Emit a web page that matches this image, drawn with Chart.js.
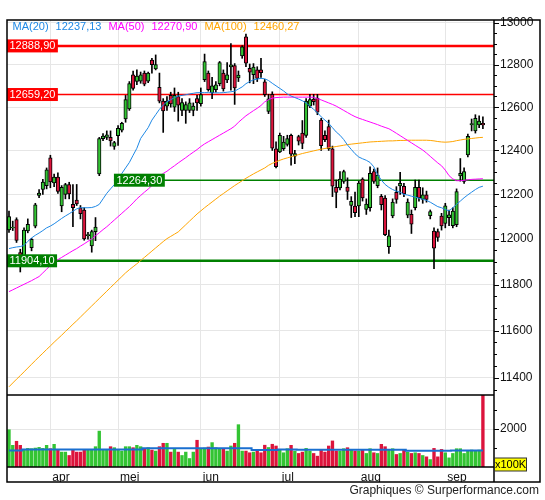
<!DOCTYPE html>
<html>
<head>
<meta charset="utf-8">
<title>Koersgrafiek</title>
<script src="https://cdn.jsdelivr.net/npm/chart.js@4.4.1/dist/chart.umd.min.js"></script>
<style>
    html, body { margin: 0; padding: 0; background: #fff; }
    #wrap { width: 545px; height: 500px; }
</style>
</head>
<body>
<div id="wrap"><canvas id="chart" width="545" height="500"></canvas></div>
<script>
// Dagkoersen, 17 maart t/m 15 september (127 handelsdagen)
const opens = [
    12041, 12050, 12087, 11940, 11912, 12036, 11962, 12058, 12196, 12223, 12240,
    12366, 12252, 12278, 12148, 12200, 12244, 12155, 12175, 12140, 12130, 12015, 11970, 12033, 12293, 12454, 12460, 12460, 12418,
    12468, 12493, 12545, 12592, 12752, 12721, 12722, 12760, 12722, 12822, 12780, 12693, 12628, 12605, 12655, 12600, 12650, 12585, 12585, 12585, 12585, 12640,
    12617, 12729, 12760, 12668, 12682, 12710, 12760, 12728, 12789, 12795, 12737, 12841, 12932, 12783, 12752, 12775, 12775, 12719, 12580, 12660, 12408,
    12393, 12408, 12428, 12469, 12374, 12464, 12480, 12469, 12605, 12638, 12643, 12540, 12469, 12510, 12408, 12232, 12229, 12259, 12233, 12150, 12148,
    12148, 12269, 12132, 12140, 12303, 12240, 12191, 12184, 11967, 12103, 12209, 12238, 12236, 12107, 12110, 12140, 12232, 12177, 12198, 12105, 12036, 12033, 12103,
    12070, 12095, 12060, 12064, 12284, 12259, 12380, 12518, 12490, 12518, 12525
];
const highs = [
    12125, 12080, 12095, 11955, 12050, 12090, 12003, 12160, 12222, 12268, 12320,
    12378, 12292, 12298, 12240, 12250, 12255, 12244, 12245, 12150, 12140, 12030, 12040, 12096, 12460, 12478, 12490, 12490, 12442,
    12515, 12530, 12655, 12720, 12770, 12775, 12765, 12770, 12765, 12830, 12846, 12760, 12640, 12650, 12670, 12690, 12670, 12640, 12625, 12640, 12620, 12655,
    12690, 12850, 12770, 12740, 12720, 12815, 12775, 12810, 12900, 12805, 12770, 12890, 12945, 12803, 12805, 12790, 12830, 12730, 12660, 12672, 12440,
    12480, 12465, 12470, 12475, 12400, 12470, 12538, 12640, 12660, 12660, 12660, 12548, 12490, 12540, 12420, 12265, 12303, 12310, 12275, 12190, 12210,
    12260, 12275, 12180, 12325, 12315, 12320, 12200, 12195, 12040, 12180, 12235, 12300, 12250, 12180, 12130, 12265, 12265, 12230, 12215, 12130, 12050, 12045, 12115,
    12160, 12130, 12140, 12225, 12363, 12320, 12475, 12545, 12565, 12560, 12555
];
const lows = [
    12030, 12038, 11985, 11855, 11900, 12028, 11948, 12050, 12185, 12200, 12225,
    12230, 12235, 12205, 12122, 12180, 12180, 12055, 12150, 12090, 11995, 12000, 11942, 11993, 12285, 12445, 12450, 12420, 12405,
    12423, 12485, 12530, 12585, 12680, 12705, 12712, 12700, 12715, 12760, 12775, 12620, 12483, 12585, 12600, 12580, 12535, 12560, 12525, 12575, 12560, 12585,
    12605, 12720, 12675, 12640, 12670, 12700, 12675, 12715, 12680, 12613, 12720, 12830, 12790, 12714, 12710, 12720, 12740, 12650, 12570, 12400, 12320,
    12390, 12400, 12420, 12333, 12340, 12425, 12408, 12460, 12598, 12610, 12565, 12400, 12440, 12400, 12190, 12140, 12220, 12250, 12177, 12096, 12100,
    12100, 12170, 12110, 12125, 12250, 12230, 12130, 12015, 11937, 12095, 12160, 12200, 12190, 12095, 12025, 12130, 12170, 12160, 12165, 12090, 11870, 11990, 12040,
    12050, 12060, 12050, 12055, 12260, 12250, 12370, 12490, 12480, 12505, 12500
];
const closes = [
    12100, 12054, 11994, 11904, 12040, 12066, 11999, 12153, 12206, 12256, 12312,
    12257, 12278, 12214, 12232, 12244, 12202, 12140, 12157, 12113, 12001, 12020, 12033, 12054, 12454, 12466, 12472, 12444, 12436,
    12502, 12525, 12636, 12710, 12688, 12746, 12752, 12708, 12760, 12800, 12800, 12628, 12583, 12628, 12615, 12655, 12610, 12622, 12612, 12620, 12605, 12620,
    12659, 12814, 12682, 12700, 12705, 12810, 12685, 12752, 12799, 12690, 12750, 12885, 12807, 12764, 12788, 12735, 12762, 12659, 12639, 12410, 12326,
    12469, 12438, 12454, 12383, 12386, 12443, 12432, 12628, 12636, 12626, 12577, 12422, 12449, 12408, 12237, 12209, 12269, 12303, 12214, 12169, 12118,
    12251, 12184, 12157, 12296, 12259, 12288, 12154, 12020, 12015, 12166, 12177, 12250, 12202, 12166, 12066, 12232, 12184, 12198, 12177, 12123, 11960, 12008, 12059,
    12149, 12108, 12125, 12213, 12296, 12303, 12465, 12524, 12548, 12535, 12518
];

// Volume in eenheden van 100K
const volumes = [
    1966, 1144, 1358, 1144, 894, 983, 965, 1000, 1036, 983, 1144,
    965, 1197, 894, 786, 786, 608, 894, 786, 786, 894, 894, 894, 1072, 1894, 894, 894, 1072, 1019,
    929, 840, 1072, 1072, 1019, 1144, 1072, 965, 1019, 894, 840, 1072, 1251, 1251, 786, 929, 786, 608, 786, 447, 786, 1412,
    965, 1000, 1054, 1287, 1019, 965, 965, 840, 1108, 1251, 2234, 840, 840, 751, 786, 894, 751, 1150, 1030, 1200, 1108,
    894, 751, 965, 1144, 840, 715, 786, 983, 840, 715, 572, 894, 786, 1108, 1376, 840, 840, 965, 1019, 929, 840,
    840, 894, 715, 965, 751, 715, 1197, 1072, 929, 965, 661, 715, 894, 786, 715, 751, 715, 608, 536, 393, 983, 536, 929,
    751, 482, 715, 965, 965, 715, 840, 894, 840, 894, 3800
];
const volumeMa = [
    876, 876, 876, 876,
    930, 930, 930, 930, 930, 930, 930, 930, 930, 930, 930, 930, 930, 930, 930, 930,
    930, 930, 930, 930, 930, 930, 930, 930, 930, 930, 930, 930, 930, 930, 930, 930,
    983, 983, 983, 983, 983, 983, 983, 983, 983, 983, 983, 983, 983, 983, 983,
    983, 983, 983, 983, 983, 983, 983, 983, 983, 983, 983, 983, 983, 983,
    894, 894, 894, 894, 894, 894, 894,
    929, 929, 929, 929, 929,
    911, 911, 911, 911, 911, 911, 911, 911, 911, 911, 911, 911, 911, 911, 911,
    911, 911, 911, 911, 911, 911, 911, 911, 911, 911, 911, 911, 911, 911,
    858, 858, 858, 858, 858, 858, 858, 858, 858, 858, 858, 858,
    876, 876, 876, 876, 876, 876, 876, 876, 876
];

// Voortschrijdende gemiddelden
const ma20 = [
    11958, 11962, 11965, 11967, 11972, 11990, 12005, 12017, 12027, 12038, 12050,
    12058, 12068, 12080, 12092, 12103, 12113, 12124, 12135, 12140, 12140, 12140, 12141, 12146, 12155, 12180, 12205, 12225, 12244,
    12270, 12295, 12320, 12345, 12378, 12410, 12455, 12480, 12505, 12540, 12565, 12590, 12610, 12625, 12635, 12645, 12652, 12655, 12658, 12662, 12665, 12668,
    12668, 12668, 12668, 12667, 12667, 12667, 12668, 12670, 12672, 12675, 12685, 12695, 12710, 12720, 12728, 12732, 12735, 12733, 12725, 12712, 12700,
    12688, 12676, 12662, 12652, 12645, 12638, 12630, 12620, 12605, 12590, 12575, 12555, 12540, 12525, 12505, 12485, 12470, 12450, 12425, 12405, 12385,
    12370, 12362, 12355, 12345, 12325, 12290, 12265, 12245, 12232, 12222, 12215, 12210, 12200, 12197, 12192, 12188, 12183, 12178, 12173, 12165, 12155, 12145, 12140,
    12132, 12126, 12140, 12155, 12170, 12185, 12198, 12210, 12222, 12232, 12237.13
];
const ma50 = [
    11769, 11777, 11785, 11793, 11801, 11809, 11817, 11826, 11835, 11851, 11867,
    11883, 11899, 11909, 11919, 11929, 11939, 11949, 11958, 11969, 11979, 11990, 12001, 12015, 12028, 12042, 12055, 12070, 12085,
    12100, 12115, 12130, 12145, 12162, 12180, 12195, 12210, 12224, 12240, 12258, 12280, 12295, 12305, 12318, 12330, 12343, 12355, 12367, 12380, 12392, 12404,
    12418, 12430, 12440, 12450, 12460, 12470, 12480, 12490, 12500, 12512, 12530, 12545, 12560, 12572, 12584, 12595, 12608, 12625, 12635, 12642, 12645,
    12646, 12647, 12647, 12647, 12647, 12647, 12647, 12647, 12647, 12646, 12640, 12634, 12627, 12620, 12613, 12605, 12595, 12585, 12575, 12565, 12556,
    12549, 12543, 12537, 12531, 12525, 12519, 12512, 12506, 12500, 12490, 12479, 12468, 12457, 12446, 12435, 12424, 12413, 12402, 12388, 12373, 12358, 12343, 12330,
    12310, 12285, 12270, 12262, 12262, 12264, 12266, 12268, 12269, 12270, 12270.90
];
const ma100 = [
    11362, 11378, 11394, 11409, 11425, 11441, 11457, 11473, 11489, 11504, 11520,
    11535, 11551, 11566, 11581, 11597, 11612, 11628, 11643, 11659, 11675, 11691, 11707, 11723, 11739, 11755, 11771, 11787, 11803,
    11819, 11835, 11851, 11865, 11878, 11891, 11905, 11919, 11933, 11947, 11961, 11975, 11989, 12002, 12012, 12022, 12032, 12048, 12064, 12080, 12096, 12112,
    12126, 12140, 12153, 12166, 12179, 12192, 12204, 12216, 12228, 12240, 12251, 12262, 12273, 12283, 12293, 12302, 12311, 12320, 12332, 12341, 12348,
    12355, 12361, 12366, 12371, 12376, 12381, 12386, 12390, 12394, 12398, 12402, 12406, 12409, 12412, 12415, 12418, 12421, 12424, 12427, 12429, 12431,
    12433, 12435, 12437, 12439, 12440, 12441, 12442, 12443, 12444, 12444, 12445, 12446, 12446, 12447, 12447, 12447, 12447, 12447, 12447, 12446, 12444, 12441, 12439,
    12438, 12439, 12441, 12445, 12448, 12451, 12453, 12455, 12457, 12459, 12460.27
];

// As-labels
const monthLabels = ['apr', 'mei', 'jun', 'jul', 'aug', 'sep'];
const monthStarts = [11, 29, 51, 72, 93, 116];
const priceTicks = [11400, 11600, 11800, 12000, 12200, 12400, 12600, 12800, 13000];
const volumeTicks = [2000];

// Steun- en weerstandsniveaus
const levelValues = [12888.90, 12659.20, 12264.30, 11904.10];
const levelColors = ['#ff0000', '#ff0000', '#008000', '#008000'];
const levelFrom = [null, null, 27.9, null];

const GREEN = '#33c433';
const RED = '#dc143c';
const isUp = closes.map((c, i) => c >= opens[i]);
const fmt = v => v.toFixed(2).replace('.', ',');

Chart.defaults.font.family = '"Liberation Sans", Arial, sans-serif';
Chart.defaults.font.size = 12;
Chart.defaults.color = '#111';

/**
 * Lijnen, labels en kaders die Chart.js zelf niet tekent
 */
const overlay = {
    id: 'overlay',
    beforeDatasetsDraw(chart) {
        const { ctx, chartArea: area, scales: { x, y } } = chart;
        ctx.save();
        levelValues.forEach((v, k) => {
            const py = y.getPixelForValue(v);
            const px = levelFrom[k] == null ? area.left : x.getPixelForValue(levelFrom[k]);
            ctx.strokeStyle = levelColors[k];
            ctx.lineWidth = (k === 0 || k === 3) ? 2.5 : 1.5;
            ctx.beginPath();
            ctx.moveTo(px, py);
            ctx.lineTo(area.right, py);
            ctx.stroke();
        });
        ctx.restore();
    },
    afterDraw(chart) {
        const { ctx, chartArea: area, scales: { x, y, yv } } = chart;
        const split = yv.top;
        ctx.save();

        // labels bij de niveaus
        ctx.font = '11px "Liberation Sans", Arial, sans-serif';
        ctx.textBaseline = 'middle';
        ctx.textAlign = 'left';
        levelValues.forEach((v, k) => {
            const py = y.getPixelForValue(v);
            const px = levelFrom[k] == null ? area.left : x.getPixelForValue(levelFrom[k]);
            const label = fmt(v);
            const w = ctx.measureText(label).width + 5;
            ctx.fillStyle = levelColors[k];
            ctx.fillRect(px, py - 6.5, w, 13);
            ctx.fillStyle = '#fff';
            ctx.fillText(label, px + 2.5, py + 0.5);
        });

        // legenda van de gemiddelden
        ctx.font = '11px "Liberation Sans", Arial, sans-serif';
        const legend = [
            ['MA(20)', '#1e88e5'], [fmt(ma20[ma20.length - 1]), '#1e88e5'],
            ['MA(50)', '#ff00ff'], [fmt(ma50[ma50.length - 1]), '#ff00ff'],
            ['MA(100)', '#ffa500'], [fmt(ma100[ma100.length - 1]), '#ffa500']
        ];
        let lx = 12.5;
        legend.forEach(([txt, col]) => {
            ctx.fillStyle = col;
            ctx.fillText(txt, lx, 27);
            lx += ctx.measureText(txt).width + 7;
        });

        // kaders
        ctx.strokeStyle = '#000';
        ctx.lineWidth = 1.5;
        ctx.beginPath();
        ctx.rect(area.left, area.top, 540 - area.left, 482 - area.top);
        ctx.moveTo(area.right, area.top); ctx.lineTo(area.right, 482);
        ctx.moveTo(area.left, split); ctx.lineTo(area.right, split);
        ctx.moveTo(area.left, area.bottom); ctx.lineTo(area.right, area.bottom);
        ctx.stroke();

        // streepjes op de rechteras
        ctx.lineWidth = 1;
        ctx.beginPath();
        for (let v = 11350; v <= 13000; v += 50) {
            const py = Math.round(y.getPixelForValue(v)) + 0.5;
            ctx.moveTo(area.right, py);
            ctx.lineTo(area.right + (v % 200 === 0 ? 5 : 3), py);
        }
        for (let v = 1000; v <= 3000; v += 1000) {
            const py = Math.round(yv.getPixelForValue(v)) + 0.5;
            ctx.moveTo(area.right, py);
            ctx.lineTo(area.right + (v === 2000 ? 5 : 3), py);
        }
        ctx.stroke();

        // eenheid volume
        ctx.fillStyle = '#ffff00';
        ctx.fillRect(area.right + 0.5, 458, 32, 13);
        ctx.strokeStyle = '#333';
        ctx.strokeRect(area.right + 0.5, 458, 32, 13);
        ctx.fillStyle = '#000';
        ctx.font = '11px "Liberation Sans", Arial, sans-serif';
        ctx.textAlign = 'center';
        ctx.fillText('x100K', area.right + 16.5, 465);

        // bron
        ctx.textAlign = 'right';
        ctx.font = '12px "Liberation Sans", Arial, sans-serif';
        ctx.fillStyle = '#222';
        ctx.fillText('Graphiques \u00a9 Surperformance.com', 539, 491);
        ctx.restore();
    }
};

const xy = arr => arr.map((v, i) => ({ x: i, y: v }));

new Chart(document.getElementById('chart'), {
    type: 'bar',
    data: {
        datasets: [
            { type: 'line', label: 'MA(20)', data: xy(ma20), yAxisID: 'y', borderColor: '#1e88e5', borderWidth: 1, pointRadius: 0 },
            { type: 'line', label: 'MA(50)', data: xy(ma50), yAxisID: 'y', borderColor: '#ff00ff', borderWidth: 1, pointRadius: 0 },
            { type: 'line', label: 'MA(100)', data: xy(ma100), yAxisID: 'y', borderColor: '#ffa500', borderWidth: 1, pointRadius: 0 },
            {
                label: 'body', yAxisID: 'y', grouped: false,
                data: opens.map((o, i) => ({ x: i, y: [o, closes[i]] })),
                backgroundColor: isUp.map(u => u ? GREEN : RED),
                borderColor: '#000', borderWidth: 1, borderSkipped: false, barThickness: 3.5
            },
            {
                label: 'wick', yAxisID: 'y', grouped: false,
                data: lows.map((l, i) => ({ x: i, y: [l, highs[i]] })),
                backgroundColor: '#000', barThickness: 1
            },
            { type: 'line', label: 'volume MA', data: xy(volumeMa), yAxisID: 'yv', borderColor: '#1a6fd0', borderWidth: 2, pointRadius: 0, stepped: 'middle' },
            {
                label: 'volume', yAxisID: 'yv', grouped: false,
                data: xy(volumes),
                backgroundColor: isUp.map(u => u ? GREEN : RED),
                barThickness: 2.7
            }
        ]
    },
    options: {
        responsive: false,
        animation: false,
        events: [],
        layout: { padding: { left: 7, top: 20, right: 5, bottom: 18 } },
        plugins: { legend: { display: false }, tooltip: { enabled: false } },
        scales: {
            x: {
                type: 'linear', min: -0.53, max: 128.95, offset: false,
                grid: { color: '#e6e6e6', drawTicks: false, offset: false },
                border: { display: false },
                ticks: {
                    autoSkip: false, maxRotation: 0, align: 'start', labelOffset: 2, padding: 3,
                    callback: v => { const k = monthStarts.indexOf(v); return k >= 0 ? monthLabels[k] : ''; }
                },
                afterBuildTicks: s => { s.ticks = monthStarts.map(v => ({ value: v })); },
                afterFit: s => { s.height = 15; }
            },
            y: {
                type: 'logarithmic', position: 'right', stack: 'panes', stackWeight: 375,
                min: 11327.6, max: 13013,
                grid: { color: '#e6e6e6', drawTicks: false },
                border: { display: false },
                ticks: { autoSkip: false, padding: 6, callback: v => String(v) },
                afterBuildTicks: s => { s.ticks = priceTicks.map(v => ({ value: v })); },
                afterFit: s => { s.width = 46; }
            },
            yv: {
                type: 'linear', position: 'right', stack: 'panes', stackWeight: 72,
                min: 0, max: 3800, offset: false,
                grid: { color: '#e6e6e6', drawTicks: false },
                border: { display: false },
                ticks: { autoSkip: false, padding: 6, callback: v => String(v) },
                afterBuildTicks: s => { s.ticks = volumeTicks.map(v => ({ value: v })); },
                afterFit: s => { s.width = 46; }
            }
        }
    },
    plugins: [overlay]
});
</script>
</body>
</html>
